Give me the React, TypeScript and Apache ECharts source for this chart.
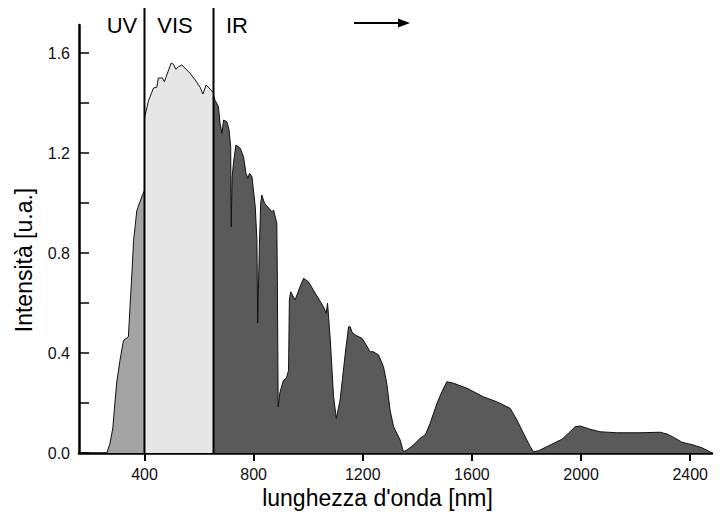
import React, { useEffect, useRef } from "react";
import * as echarts from "echarts";

// Spectrum outline: [wavelength nm, intensity u.a.]
const uvSpectrum: [number, number][] = [
  [262, 0], [274, 0.04], [284, 0.1], [290, 0.18], [298, 0.28], [310, 0.37],
  [323, 0.45], [341, 0.465], [347, 0.585], [354, 0.72], [360, 0.85],
  [372, 0.97], [390, 1.025], [400, 1.05],
];

const visSpectrum: [number, number][] = [
  [400, 1.34], [415, 1.41], [433, 1.46], [445, 1.463], [451, 1.5], [466, 1.5],
  [473, 1.485], [486, 1.525], [498, 1.56], [506, 1.555], [515, 1.535],
  [525, 1.545], [537, 1.552], [549, 1.539], [567, 1.519], [586, 1.492],
  [604, 1.463], [614, 1.436], [626, 1.472], [641, 1.455], [653, 1.44],
];

const irSpectrum: [number, number][] = [
  [653, 1.43], [659, 1.41], [665, 1.399], [671, 1.385], [677, 1.319],
  [684, 1.279], [690, 1.332], [702, 1.325], [710, 1.292], [716, 1.225],
  [718, 0.905], [721, 1.1], [726, 1.159], [735, 1.232], [751, 1.219],
  [763, 1.185], [772, 1.119], [779, 1.099], [785, 1.119], [794, 1.105],
  [806, 0.985], [812, 0.852], [815, 0.52], [821, 0.825], [826, 1.0],
  [830, 1.032], [840, 0.999], [867, 0.965], [873, 0.972], [885, 0.919],
  [887, 0.69], [890, 0.185], [896, 0.24], [909, 0.29], [920, 0.3],
  [928, 0.33], [931, 0.612], [936, 0.645], [952, 0.612], [970, 0.665],
  [983, 0.699], [1001, 0.685], [1026, 0.639], [1056, 0.585], [1066, 0.559],
  [1071, 0.599], [1081, 0.452], [1093, 0.225], [1103, 0.139], [1117, 0.212],
  [1136, 0.399], [1148, 0.505], [1154, 0.505], [1160, 0.485], [1172, 0.472],
  [1197, 0.459], [1209, 0.439], [1227, 0.405], [1239, 0.405], [1258, 0.392],
  [1276, 0.345], [1288, 0.279], [1300, 0.172], [1313, 0.105], [1325, 0.079],
  [1337, 0.052], [1349, 0.005], [1362, 0.012], [1386, 0.032], [1410, 0.059],
  [1429, 0.072], [1447, 0.119], [1472, 0.199], [1490, 0.245], [1508, 0.285],
  [1533, 0.279], [1582, 0.259], [1642, 0.225], [1691, 0.205], [1740, 0.179],
  [1765, 0.132], [1789, 0.079], [1814, 0.025], [1826, 0.005], [1844, 0.009],
  [1887, 0.032], [1930, 0.055], [1954, 0.079], [1978, 0.105], [1997, 0.108],
  [2033, 0.095], [2070, 0.085], [2131, 0.081], [2216, 0.081], [2290, 0.083],
  [2315, 0.076], [2339, 0.063], [2370, 0.043], [2412, 0.032], [2443, 0.021],
  [2467, 0.008], [2480, 0],
];

// Band boundaries (nm)
const bandBoundaries = [400, 653];
const bandLabels = ["UV", "VIS", "IR"];

// Axis ticks
const xTickValues = [400, 800, 1200, 1600, 2000, 2400];
const yTickValues = [0, 0.2, 0.4, 0.6, 0.8, 1.0, 1.2, 1.4, 1.6];
const yLabelValues = [0, 0.4, 0.8, 1.2, 1.6];

const FONT = "'Liberation Sans', Arial, Helvetica, sans-serif";

export default function App() {
  const ref = useRef<HTMLDivElement>(null);

  useEffect(() => {
    if (!ref.current) return;
    const chart = echarts.init(ref.current, undefined, { renderer: "svg" });

    const areaSeries = (data: [number, number][], color: string) => ({
      type: "line",
      data,
      symbol: "none",
      smooth: false,
      lineStyle: { color: "#111", width: 1 },
      areaStyle: { color, opacity: 1 },
      z: 2,
    });

    const boundarySeries = bandBoundaries.map((b) => ({
      type: "line",
      data: [[b, 0], [b, 1.78]],
      symbol: "none",
      clip: false,
      lineStyle: { color: "#000", width: 2 },
      z: 5,
    }));

    const bandText = (text: string, x: number) => ({
      type: "text",
      x,
      y: 25,
      style: { text, font: `22px ${FONT}`, fill: "#000", align: "center", verticalAlign: "middle" },
    });

    const option: any = {
      animation: false,
      backgroundColor: "#fff",
      grid: { left: 79, right: 14, top: 25, bottom: 62 },
      xAxis: {
        type: "value",
        min: 160,
        max: 2480,
        name: "lunghezza d'onda [nm]",
        nameLocation: "middle",
        nameGap: 32,
        nameTextStyle: {
          fontFamily: FONT,
          fontSize: 23,
          color: "#000",
          padding: [0, 36, 0, 0],
        },
        axisLine: { show: true, onZero: false, lineStyle: { color: "#000", width: 2.5 } },
        axisTick: {
          show: true,
          inside: false,
          length: 8,
          customValues: xTickValues,
          lineStyle: { color: "#000", width: 2 },
        },
        axisLabel: {
          customValues: xTickValues,
          formatter: (v: number) => String(v),
          fontFamily: FONT,
          fontSize: 16,
          color: "#111",
          margin: 13,
        },
        splitLine: { show: false },
      },
      yAxis: {
        type: "value",
        min: 0,
        max: 1.712,
        name: "Intensità [u.a.]",
        nameLocation: "middle",
        nameGap: 44,
        nameRotate: 90,
        nameTextStyle: {
          fontFamily: FONT,
          fontSize: 23,
          color: "#000",
          padding: [0, 42, 0, 0],
        },
        axisLine: { show: true, lineStyle: { color: "#000", width: 2.5 } },
        axisTick: {
          show: true,
          inside: true,
          length: 10,
          customValues: yTickValues,
          lineStyle: { color: "#000", width: 1.5 },
        },
        axisLabel: {
          customValues: yLabelValues,
          formatter: (v: number) => v.toFixed(1),
          fontFamily: FONT,
          fontSize: 16,
          color: "#111",
          margin: 9,
        },
        splitLine: { show: false },
      },
      series: [
        areaSeries(uvSpectrum, "#a3a3a3"),
        areaSeries(visSpectrum, "#e6e6e6"),
        areaSeries(irSpectrum, "#5a5a5a"),
        ...boundarySeries,
      ],
      graphic: [
        bandText(bandLabels[0], 122),
        bandText(bandLabels[1], 175),
        bandText(bandLabels[2], 237),
        {
          type: "line",
          shape: { x1: 354, y1: 23, x2: 402, y2: 23 },
          style: { stroke: "#000", lineWidth: 2 },
        },
        {
          type: "polygon",
          shape: { points: [[398, 18.5], [410, 23], [398, 27.5]] },
          style: { fill: "#000" },
        },
      ],
    };

    chart.setOption(option);
    return () => chart.dispose();
  }, []);

  return (
    <div
      ref={ref}
      style={{ position: "fixed", left: 0, top: 0, width: 726, height: 515 }}
    />
  );
}
